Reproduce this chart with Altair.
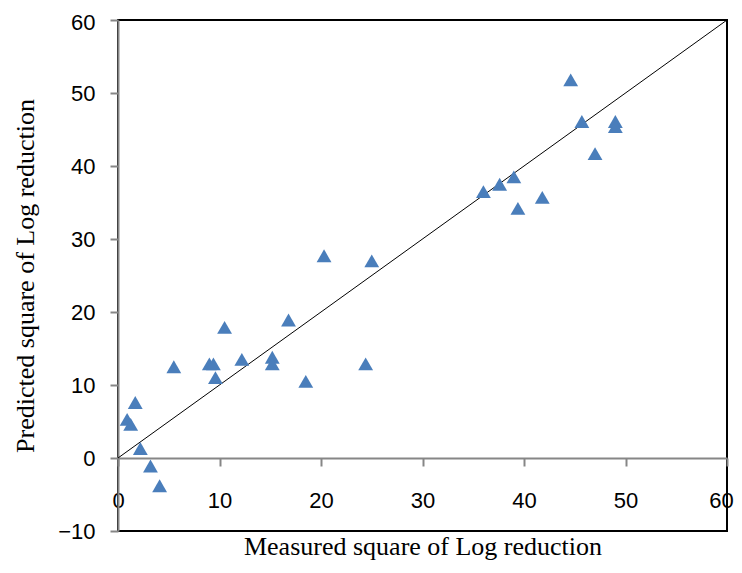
import altair as alt
import pandas as pd

measured = [20.3, 25.0, 44.6, 45.7, 49.0, 49.0, 47.0, 39.0, 37.6, 36.0, 41.8, 39.4,
            16.8, 10.5, 5.5, 9.0, 9.4, 9.6, 12.2, 15.2, 15.2, 18.5, 24.4, 1.7, 0.9,
            1.25, 2.2, 3.2, 4.1]
predicted = [27.7, 27.0, 51.8, 46.1, 46.1, 45.4, 41.7, 38.5, 37.5, 36.5, 35.7, 34.2,
             18.9, 17.9, 12.5, 12.9, 12.9, 11.0, 13.5, 13.8, 12.9, 10.5, 12.9, 7.6, 5.3,
             4.6, 1.3, -1.1, -3.8]
diag_x = [0, 60]
diag_y = [0, 60]
x_ticks = [0, 10, 20, 30, 40, 50, 60]
y_ticks = [-10, 0, 10, 20, 30, 40, 50, 60]

pts = pd.DataFrame({"m": measured, "p": predicted})
diag = pd.DataFrame({"m": diag_x, "p": diag_y})

xscale = alt.Scale(domain=[0, 60], nice=False, zero=False)
yscale = alt.Scale(domain=[-10, 60], nice=False, zero=False)

xaxis = alt.Axis(values=x_ticks, title="Measured square of Log reduction", grid=False,
                 offset=-73, domainColor="#868686", domainWidth=2, tickColor="#868686",
                 tickWidth=2, tickSize=8, labelFont="Liberation Sans", labelFontSize=22,
                 labelColor="black", labelPadding=24, labelFlush=False,
                 labelOffset={"condition": {"test": "datum.value === 60", "value": -6}, "value": 0},
                 titleFont="Liberation Serif", titleFontSize=26, titleFontWeight="normal",
                 titleColor="black", titleY=96, titleBaseline="alphabetic")
yaxis = alt.Axis(values=y_ticks, title="Predicted square of Log reduction", grid=False,
                 domainColor="#868686", domainWidth=2, tickColor="#868686",
                 tickWidth=2, tickSize=8, labelFont="Liberation Sans", labelFontSize=22,
                 labelColor="black", labelPadding=15, labelFlush=False,
                 labelOffset={"condition": {"test": "datum.value === 60", "value": 2}, "value": 0},
                 titleFont="Liberation Serif", titleFontSize=26, titleFontWeight="normal",
                 titleColor="black", titleX=-85, titleBaseline="alphabetic")

line = alt.Chart(diag).mark_line(color="black", strokeWidth=1).encode(
    x=alt.X("m:Q", scale=xscale, axis=xaxis),
    y=alt.Y("p:Q", scale=yscale, axis=yaxis),
)
points = alt.Chart(pts).mark_point(shape="triangle-up", filled=True, opacity=1,
                                   color="#4A7EBB", size=220).encode(
    x=alt.X("m:Q", scale=xscale),
    y=alt.Y("p:Q", scale=yscale),
)

chart = alt.layer(line, points).properties(
    width=609, height=511,
    padding={"left": 110, "top": 12, "right": 7, "bottom": 32},
    autosize=alt.AutoSizeParams(type="none"),
).configure_view(stroke="black", strokeWidth=2)

chart.save("out.html", embed_options={"renderer": "svg", "actions": False})
